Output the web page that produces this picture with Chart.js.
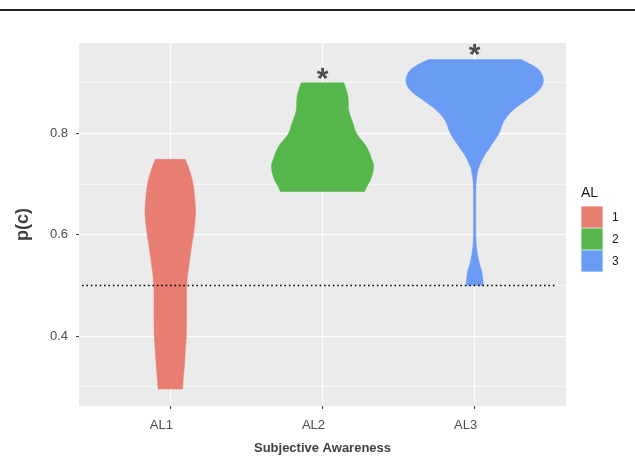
<!DOCTYPE html>
<html>
<head>
<meta charset="utf-8">
<script src="https://cdn.jsdelivr.net/npm/chart.js@4.4.1/dist/chart.umd.min.js"></script>
<style>
  html, body { margin: 0; padding: 0; background: #ffffff; }
  #wrap { position: relative; width: 635px; height: 456px; overflow: hidden; }
  #rule { position: absolute; left: 0; top: 9px; width: 635px; height: 2px; background: #222222; }
  canvas { position: absolute; left: 0; top: 0; }
</style>
</head>
<body>
<div id="wrap">
  <canvas id="chart" width="635" height="456"></canvas>
  <div id="rule"></div>
</div>
<script>
// Awareness levels on the x axis and the fill groups of the legend
const categories = ['AL1', 'AL2', 'AL3'];
const groupLabels = ['1', '2', '3'];
const groupColors = ['#E87D72', '#55B64C', '#6A9CF5'];
// Significance markers printed above each violin
const significance = ['', '*', '*'];

// Violin outlines: p(c) levels and the density half-width (in category units) at each level
const al1Levels = [0.2955, 0.32, 0.34, 0.373, 0.40, 0.439, 0.504, 0.55, 0.58, 0.603, 0.642, 0.67, 0.701, 0.725, 0.749];
const al1Width  = [0.080, 0.086, 0.092, 0.099, 0.105, 0.107, 0.109, 0.127, 0.141, 0.153, 0.166, 0.161, 0.149, 0.128, 0.099];
const al2Levels = [0.685, 0.694, 0.711, 0.734, 0.747, 0.774, 0.80, 0.82, 0.846, 0.862, 0.879, 0.90];
const al2Width  = [0.276, 0.289, 0.318, 0.336, 0.326, 0.289, 0.224, 0.201, 0.172, 0.170, 0.163, 0.140];
const al3Levels = [0.50, 0.514, 0.53, 0.55, 0.57, 0.59, 0.62, 0.66, 0.69, 0.708, 0.728, 0.734, 0.754, 0.774, 0.80, 0.826, 0.846, 0.866, 0.885, 0.902, 0.922, 0.935, 0.946];
const al3Width  = [0.056, 0.053, 0.044, 0.026, 0.015, 0.0086, 0.0072, 0.0072, 0.0079, 0.011, 0.022, 0.028, 0.059, 0.103, 0.159, 0.195, 0.252, 0.340, 0.421, 0.451, 0.432, 0.377, 0.304];

// Chance level reference line and its horizontal extent (x in category units)
const chanceLevel = 0.5;
const chanceSpan = [0.42, 3.53];

// Y axis ticks
const yMajorTicks = [0.4, 0.6, 0.8];
const yMinorTicks = [0.3, 0.5, 0.7, 0.9];

const FONT = "'Liberation Sans', Arial, Helvetica, sans-serif";
Chart.defaults.font.family = FONT;

// Closed outline: right edge bottom-to-top, then left edge top-to-bottom.
// The top corners are repeated so the smoothed curve keeps a flat, square top.
function violinOutline(center, levels, widths) {
  const right = levels.map((y, i) => ({ x: center + widths[i], y }));
  const left = levels.map((y, i) => ({ x: center - widths[i], y })).reverse();
  return right.concat([right[right.length - 1]], [left[0]], left);
}

const violins = [
  { levels: al1Levels, widths: al1Width },
  { levels: al2Levels, widths: al2Width },
  { levels: al3Levels, widths: al3Width }
];

const datasets = [
  {
    label: 'chance',
    data: chanceSpan.map(x => ({ x, y: chanceLevel })),
    borderColor: '#000000',
    borderWidth: 1.6,
    borderDash: [1.6, 2.8],
    pointRadius: 0,
    fill: false,
    order: 0
  }
].concat(violins.map((v, i) => ({
  label: groupLabels[i],
  data: violinOutline(i + 1, v.levels, v.widths),
  borderColor: groupColors[i],
  backgroundColor: groupColors[i],
  borderWidth: 0.5,
  pointRadius: 0,
  tension: 0.4,
  fill: 'shape',
  order: 1
})));

// Grey panel behind the grid
const panelPlugin = {
  id: 'panel',
  beforeDraw(chart) {
    const { ctx, chartArea: a } = chart;
    ctx.save();
    ctx.fillStyle = '#EBEBEB';
    ctx.fillRect(a.left, a.top, a.right - a.left, a.bottom - a.top);
    ctx.restore();
  }
};

// Asterisks above the tops of the significant violins
const markerPlugin = {
  id: 'markers',
  afterDatasetsDraw(chart) {
    const { ctx, scales } = chart;
    ctx.save();
    ctx.fillStyle = '#4D4D4D';
    ctx.font = 'bold 30px ' + FONT;
    ctx.textAlign = 'center';
    ctx.textBaseline = 'alphabetic';
    significance.forEach((txt, i) => {
      if (!txt) return;
      const top = Math.max(...violins[i].levels);
      const x = scales.x.getPixelForValue(i + 1);
      const y = scales.y.getPixelForValue(top + 0.018);
      const m = ctx.measureText(txt);
      const mid = (m.actualBoundingBoxAscent - m.actualBoundingBoxDescent) / 2;
      ctx.fillText(txt, x, y + mid);
    });
    ctx.restore();
  }
};

// Fill legend on the right of the panel
const legendPlugin = {
  id: 'fillLegend',
  afterDraw(chart) {
    const { ctx, chartArea: a } = chart;
    const keyX = a.right + 15;
    const keySize = 22;
    const top = 206;
    ctx.save();
    ctx.fillStyle = '#1A1A1A';
    ctx.font = '14px ' + FONT;
    ctx.textAlign = 'left';
    ctx.textBaseline = 'middle';
    ctx.fillText('AL', keyX, top - 13);
    groupLabels.forEach((lab, i) => {
      const y = top + i * keySize;
      ctx.fillStyle = groupColors[i];
      ctx.fillRect(keyX, y, keySize, keySize);
      ctx.strokeStyle = 'rgba(255,255,255,0.6)';
      ctx.lineWidth = 0.6;
      ctx.strokeRect(keyX + 0.3, y + 0.3, keySize - 0.6, keySize - 0.6);
      ctx.fillStyle = '#1A1A1A';
      ctx.font = '12px ' + FONT;
      ctx.fillText(lab, keyX + keySize + 9, y + keySize / 2 + 0.5);
    });
    ctx.restore();
  }
};

new Chart(document.getElementById('chart'), {
  type: 'line',
  data: { datasets },
  plugins: [panelPlugin, markerPlugin, legendPlugin],
  options: {
    responsive: false,
    animation: false,
    events: [],
    layout: { padding: { left: 0, right: 69, top: 43, bottom: 0 } },
    plugins: {
      legend: { display: false },
      tooltip: { enabled: false },
      filler: { propagate: false }
    },
    scales: {
      x: {
        type: 'linear',
        min: 0.4,
        max: 3.6,
        afterBuildTicks: s => { s.ticks = categories.map((_, i) => ({ value: i + 1 })); },
        afterFit: s => { s.height = 50; },
        ticks: {
          callback: v => categories[Math.round(v) - 1],
          color: '#4D4D4D',
          font: { size: 13 },
          padding: 9,
          labelOffset: -9,
          autoSkip: false,
          maxRotation: 0
        },
        grid: { color: '#FFFFFF', lineWidth: 1.2, tickLength: 3, tickColor: '#333333', tickWidth: 1 },
        border: { display: false },
        title: {
          display: true,
          text: 'Subjective Awareness',
          color: '#404040',
          font: { size: 13, weight: 'bold' },
          padding: { top: 0, bottom: 0 }
        }
      },
      y: {
        type: 'linear',
        min: 0.2624,
        max: 0.9786,
        afterBuildTicks: s => {
          s.ticks = yMinorTicks.concat(yMajorTicks).sort((a, b) => a - b).map(v => ({ value: v }));
        },
        afterFit: s => { s.width = 79; },
        ticks: {
          callback: v => (yMajorTicks.includes(v) ? v.toFixed(1) : ''),
          color: '#4D4D4D',
          font: { size: 13 },
          padding: 8,
          autoSkip: false
        },
        grid: {
          color: '#FFFFFF',
          lineWidth: c => (yMajorTicks.includes(c.tick.value) ? 1.2 : 0.6),
          tickLength: 3,
          tickColor: c => (yMajorTicks.includes(c.tick.value) ? '#333333' : 'rgba(0,0,0,0)'),
          tickWidth: 1
        },
        border: { display: false },
        title: {
          display: true,
          text: 'p(c)',
          color: '#404040',
          font: { size: 18, weight: 'bold' },
          padding: { top: 12, bottom: 0 }
        }
      }
    }
  }
});
</script>
</body>
</html>
